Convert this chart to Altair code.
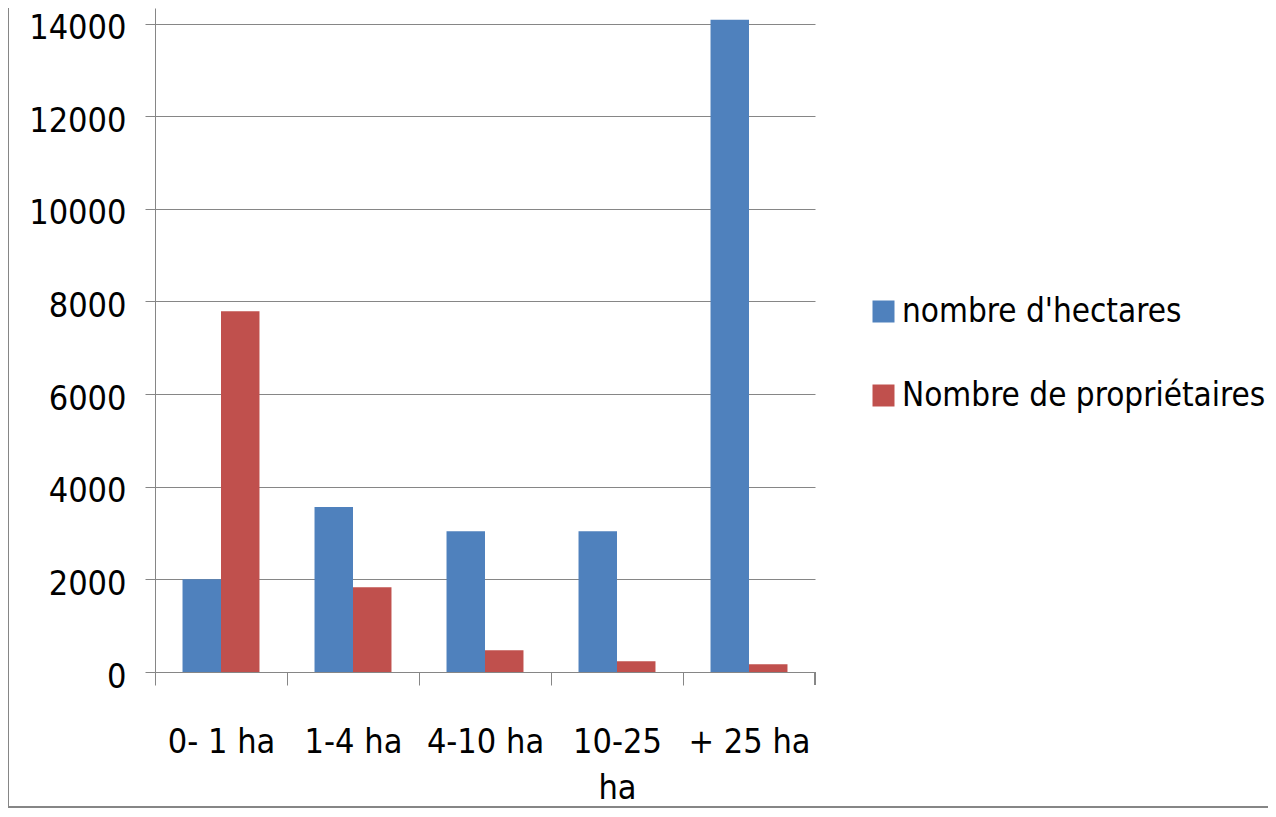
import altair as alt
import pandas as pd

categories = ["0- 1 ha", "1-4 ha", "4-10 ha", "10-25 ha", "+ 25 ha"]
series_names = ["nombre d'hectares", "Nombre de propriétaires"]
hectares = [2000, 3560, 3040, 3040, 14080]
proprietaires = [7790, 1830, 470, 230, 170]
y_ticks = [0, 2000, 4000, 6000, 8000, 10000, 12000, 14000]
colors = ["#4F81BD", "#C0504D"]

rows = []
for c, h, p in zip(categories, hectares, proprietaires):
    rows.append({"cat": c, "series": series_names[0], "value": h})
    rows.append({"cat": c, "series": series_names[1], "value": p})
df = pd.DataFrame(rows)

FONT = "DejaVu Sans Condensed, DejaVu Sans, sans-serif"
GRAY = "#868686"

bars = alt.Chart(df).mark_bar().encode(
    x=alt.X("cat:N", sort=categories,
            scale=alt.Scale(paddingInner=0.417, paddingOuter=0.2085),
            axis=alt.Axis(title=None, labelAngle=0, labelFontSize=34, labelFont=FONT,
                          labelColor="black", tickSize=13, tickOffset=-66,
                          labelOffset=66,
                          tickColor=GRAY, domainColor=GRAY, labelPadding=40,
                          labelLineHeight=46,
                          labelExpr="datum.label == '10-25 ha' ? ['10-25', 'ha'] : datum.label")),
    xOffset=alt.XOffset("series:N", sort=series_names),
    y=alt.Y("value:Q", scale=alt.Scale(domain=[0, 14335], nice=False),
            axis=alt.Axis(title=None, values=y_ticks, format="d", labelFontSize=34,
                          labelFont=FONT, labelColor="black", tickSize=10,
                          labelOffset=5,
                          tickColor=GRAY, domainColor=GRAY, gridColor=GRAY,
                          labelPadding=19)),
    color=alt.Color("series:N", sort=series_names,
                    scale=alt.Scale(domain=series_names, range=colors),
                    legend=alt.Legend(title=None, orient="none", legendX=712, legendY=287,
                                      symbolType="square", symbolSize=484,
                                      symbolStrokeWidth=0, labelFontSize=33,
                                      labelFont=FONT, labelColor="black", labelLimit=0,
                                      labelOffset=2, rowPadding=50, padding=0)),
)

end_tick = alt.Chart(df).mark_rule(color=GRAY).encode(
    x=alt.value(660), y=alt.value(664), y2=alt.value(677)
)
frame_left = alt.Chart(df).mark_rule(color=GRAY, strokeWidth=2).encode(
    x=alt.value(-147), y=alt.value(-8), y2=alt.value(800)
)
frame_bottom = alt.Chart(df).mark_rule(color=GRAY, strokeWidth=2).encode(
    x=alt.value(-147), x2=alt.value(1113), y=alt.value(799)
)

chart = alt.layer(bars, end_tick, frame_left, frame_bottom).properties(
    width=660, height=664,
    autosize=alt.AutoSizeParams(type="none"),
    padding={"left": 147, "top": 0, "right": 453, "bottom": 136},
).configure_view(stroke=None).configure_axis(grid=False).configure_axisY(grid=True)

chart.save("out.html", embed_options={"renderer": "svg", "actions": False})
